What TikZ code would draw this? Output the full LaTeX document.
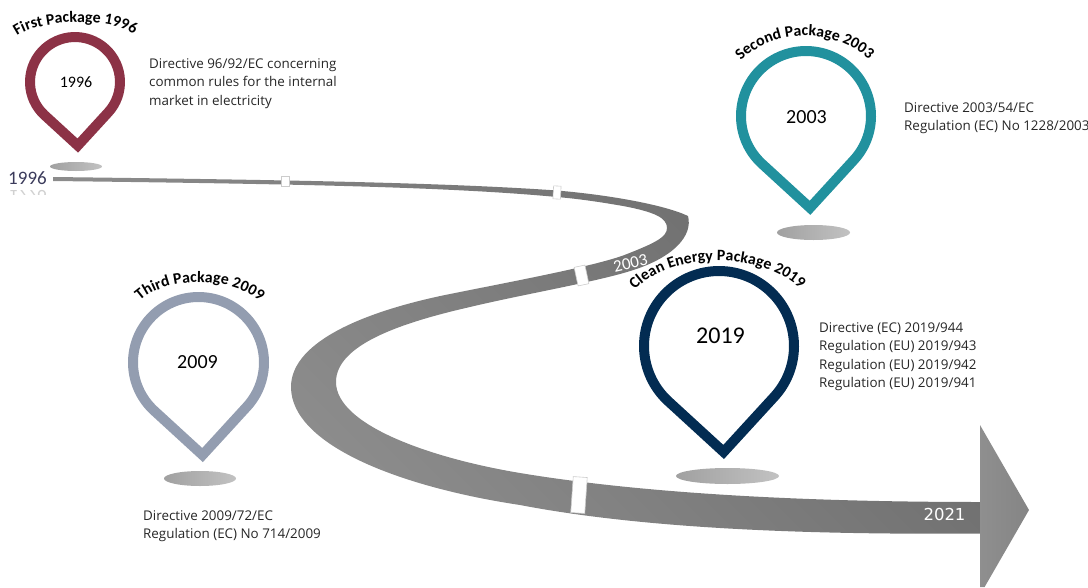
\documentclass[tikz,border=0pt]{standalone}
\usepackage{fontspec}
\setmainfont{Open Sans}
\newfontfamily\calfont{Carlito}
\newfontfamily\dejafont{DejaVu Sans}
\usetikzlibrary{decorations.text}
\definecolor{pinred}{HTML}{8C3246}
\definecolor{pinteal}{HTML}{21919E}
\definecolor{pinslate}{HTML}{939DB0}
\definecolor{pinnavy}{HTML}{032C52}
\definecolor{startink}{HTML}{3B3B5B}
\begin{document}
\begin{tikzpicture}[x=1pt,y=-1pt]
\tikzset{pinline/.style={line width=10pt,line join=miter,miter limit=10},
  shadow/.style={left color=black!37,right color=black!24},
  tick/.style={draw=black!20,fill=white,line width=.6pt,inner sep=0pt,minimum width=#1},
  info/.style={anchor=north west,align=left,inner sep=0pt,font=\fontsize{13.4}{18.3}\selectfont,text=black!85},
  year/.style={inner sep=0pt,font=\calfont\fontsize{#1}{#1}\selectfont},
  bend/.style={decorate,decoration={text along path,text align={fit to path},text={|\calfont\bfseries\fontsize{15.8}{15.8}\selectfont|#1}}}}
\useasboundingbox (0,0) rectangle (1088,587);
% ribbon
\shade[top color=black!58,bottom color=black!42,shading angle=-45]
  (53,177) .. controls (300,180) and (450,183) .. (557,190.5)
  .. controls (610,195) and (665,205) .. (688,216)
  .. controls (693,235) and (675,258) .. (627,272)
  .. controls (590,283) and (520,295) .. (470,307)
  .. controls (400,323) and (336,345) .. (336,382)
  .. controls (336,425) and (430,458) .. (520,473)
  .. controls (640,493) and (800,502) .. (980,502)
  -- (980,533.5)
  .. controls (800,535) and (640,528) .. (520,505)
  .. controls (400,487) and (291,445) .. (291,387)
  .. controls (291,340) and (370,310) .. (450,294)
  .. controls (520,280) and (600,265) .. (627,254)
  .. controls (655,243) and (667,237) .. (667,228)
  .. controls (667,218) and (655,212) .. (623,206)
  .. controls (600,202) and (580,199) .. (557,197)
  .. controls (450,187) and (300,184) .. (53,181)
  -- cycle;
\shade[left color=black!44,right color=black!48]
  (980,425) -- (1029,510) -- (984.6,587) -- (980,587) -- cycle;
\node[tick=7.5pt,minimum height=9.5pt] (tickA) at (285.5,181.5) {};
\node[tick=7.5pt,minimum height=13pt,rotate=-3] (tickB) at (557,192.5) {};
\node[tick=11pt,minimum height=19pt,rotate=12] (tickC) at (581.5,275.5) {};
\node[tick=14pt,minimum height=36pt,rotate=-4] (tickD) at (579,495) {};
\node[inner sep=0pt,text=white,rotate=13,font=\calfont\fontsize{17}{17}\selectfont] (rib2003) at (630.5,263.5) {2003};
\node[inner sep=0pt,text=white,font=\dejafont\fontsize{16.5}{16.5}\selectfont] (rib2021) at (944.5,514) {2021};
% pins
\foreach \cx/\cy/\rad/\pincol in {75/82/45/pinred,806/116/65/pinteal,198.5/362.5/65.5/pinslate,719/346/75/pinnavy}{
  \begin{scope}[shift={(\cx,\cy)},yscale=-1,rotate=-2.5]
  \draw[pinline,draw=\pincol] (0,-1.4142*\rad) -- (-45:\rad) arc[start angle=-45,end angle=225,radius=\rad] -- cycle;
  \end{scope}
}
\foreach \ex/\ey/\rx/\ry in {76/166.5/26/4.5,813.5/232.5/36.5/7.5,200/478.5/36/7.5,727.5/476/51.5/8}{
  \shade[shadow] (\ex,\ey) ellipse[x radius=\rx,y radius=\ry];
}
\path[bend={First Package 1996}] (17,36) .. controls (41,19) and (109,17) .. (134,34);
\path[bend={Second Package 2003}] (741,61) .. controls (772,29) and (832,27) .. (867,58);
\path[bend={Third Package 2009}] (140,301) .. controls (167,276) and (230,276) .. (260,301);
\path[bend={Clean Energy Package 2019}] (635,290) .. controls (672,251) and (762,251) .. (800,289);
\node[year=16] (pin1996) at (76,82) {1996};
\node[year=20] (pin2003) at (806.5,117) {2003};
\node[year=20] (pin2009) at (197.5,362) {2009};
\node[year=24] (pin2019) at (720.5,336) {2019};
\node[info] (txt1996) at (149,58.5) {Directive 96/92/EC concerning\\common rules for the internal\\market in electricity};
\node[info] (txt2003) at (904,102) {Directive 2003/54/EC\\Regulation (EC) No 1228/2003};
\node[info] (txt2009) at (143,510.5) {Directive 2009/72/EC\\Regulation (EC) No 714/2009};
\node[info] (txt2019) at (819,322.5) {Directive (EC) 2019/944\\Regulation (EU) 2019/943\\Regulation (EU) 2019/942\\Regulation (EU) 2019/941};
% start label and its mirror
\node[year=19,text=startink] (lab1996) at (27.5,178) {1996};
\begin{scope}
\clip (0,187) rectangle (60,194);
\node[year=19,text=black!18,yscale=-1] (mir1996) at (27.5,197) {1996};
\end{scope}
\end{tikzpicture}
\end{document}
